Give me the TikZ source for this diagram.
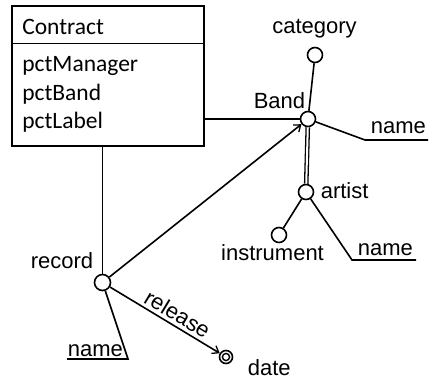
\documentclass[tikz,border=0pt]{standalone}
\usepackage{fontspec}
\setmainfont{Liberation Sans}
\newfontfamily\calfont{Carlito}
\usetikzlibrary{arrows.meta}
\begin{document}
\begin{tikzpicture}[x=1pt,y=-1pt, line width=1.6pt,
  obj/.style={circle, draw, fill=white, minimum size=15pt, inner sep=0pt},
  lbl/.style={font=\fontsize{22}{26}\selectfont, inner sep=0pt},
  cls/.style={font=\calfont\fontsize{23.5}{28}\selectfont, inner sep=0pt, anchor=base west},
  tip/.style={-{Straight Barb[length=6pt,width=9pt,line width=1.3pt]}}]
\useasboundingbox (0,0) rectangle (430,381);
% Contract class box
\node[draw, minimum width=192pt, minimum height=140pt, anchor=north west, inner sep=0pt] (contract) at (11,5) {};
\draw (11,43.5) -- (203,43.5);
\node[cls] (tcontract) at (21.5,34) {Contract};
\node[cls] (tmanager) at (21.5,71.7) {pctManager};
\node[cls] (tband) at (21.5,100) {pctBand};
\node[cls] (tlabel) at (21.5,128) {pctLabel};
% objects
\node[obj] (band) at (308,119) {};
\node[obj] (category) at (315,55) {};
\node[obj] (artist) at (306,192) {};
\node[obj] (instrument) at (279,235) {};
\node[obj, minimum size=16pt] (record) at (102.5,282.5) {};
\node[circle, draw, fill=white, minimum size=13pt, inner sep=0pt] (date) at (226,357) {};
\draw[line width=1.4pt] (date) circle (3.6pt);
% labels
\node[lbl, anchor=base] (lcategory) at (314.5,33) {category};
\node[lbl, anchor=base east] (lband) at (306,108.3) {Band};
\node[lbl, anchor=base west] (lartist) at (320,198) {artist};
\node[lbl, anchor=base] (linstrument) at (272.5,260) {instrument};
\node[lbl, anchor=base] (lrecord) at (62,268) {record};
\node[lbl, anchor=base west] (lbname) at (370,133) {name};
\node[lbl, anchor=base west] (laname) at (357,255) {name};
\node[lbl, anchor=base west] (lrname) at (67,356) {name};
\node[lbl, anchor=base west] (ldate) at (247,375.5) {date};
% coordinates for name underlines
\coordinate (bn1) at (365,140); \coordinate (bn2) at (428,140);
\coordinate (an1) at (352,260); \coordinate (an2) at (416,260);
\coordinate (rn1) at (128,359); \coordinate (rn2) at (67,359);
% connectors
\draw (contract.east |- band) -- (band);
\draw (contract.south -| record) -- (record);
\draw (band) -- (category);
\draw[line width=1.3pt, double, double distance=2pt] (band) -- (artist);
\draw (band) -- (bn1) -- (bn2);
\draw (artist) -- (instrument);
\draw (artist) -- (an1) -- (an2);
\draw[tip] (record) -- (band);
\draw (record) -- (rn1) -- (rn2);
\draw[tip] (record) -- node[lbl, pos=0.56, sloped, above, inner sep=3pt] (lrelease) {release} (date);
\end{tikzpicture}
\end{document}
